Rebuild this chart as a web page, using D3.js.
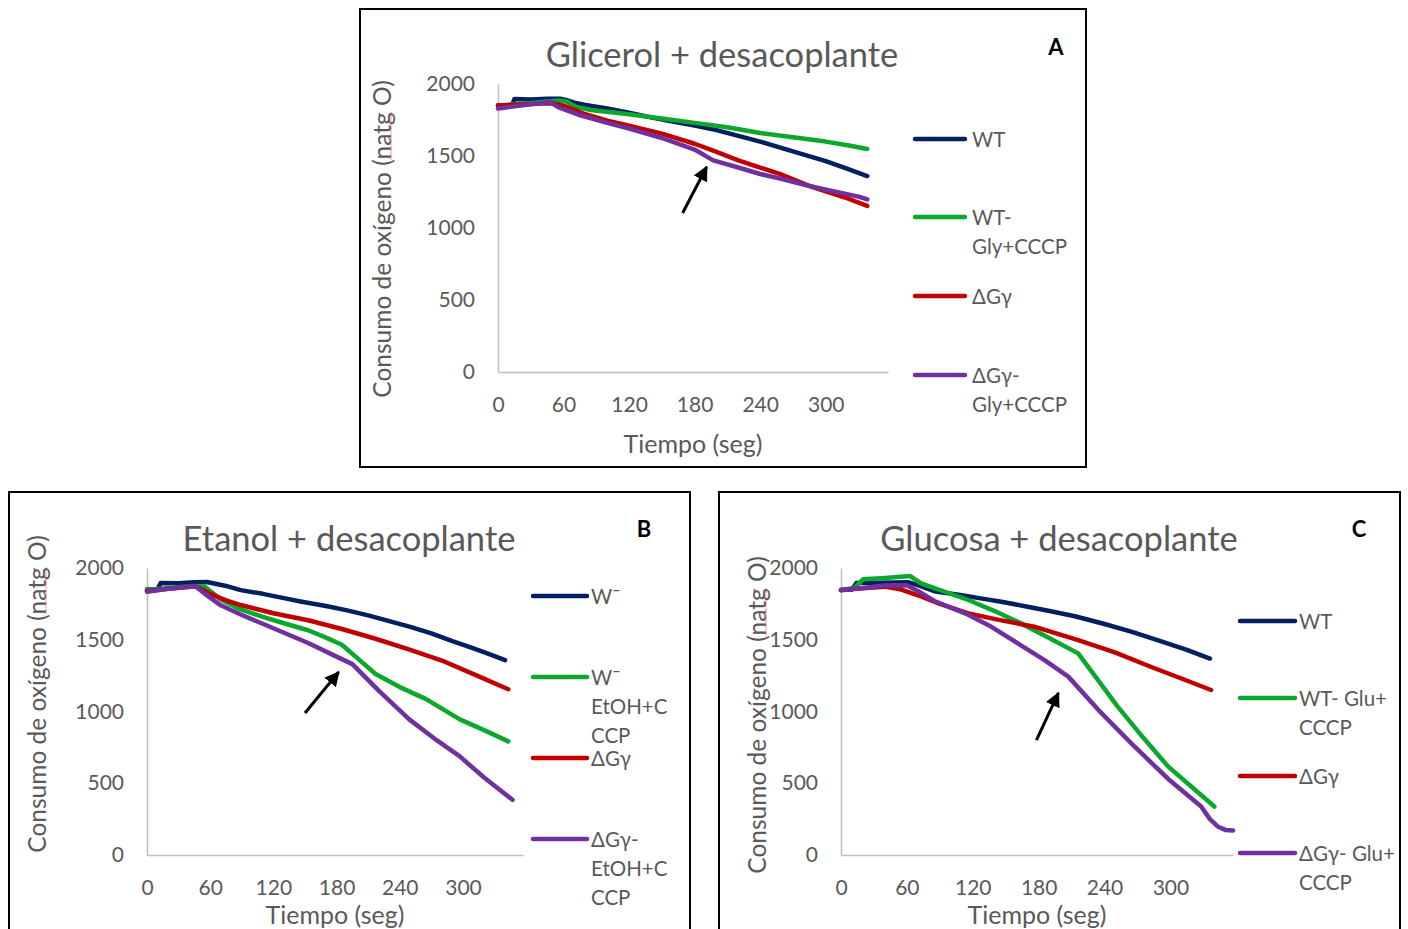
<!DOCTYPE html>
<html>
<head>
<meta charset="utf-8">
<script src="https://cdn.jsdelivr.net/npm/d3@7"></script>
<style>
  body { margin: 0; background: #fff; }
  svg text { font-family: Lato, "Open Sans", sans-serif; fill: #595959; }
</style>
</head>
<body>
<svg id="fig" width="1408" height="929"></svg>
<script>
// ---- data: [tiempo (seg), consumo (natg O)] ----
var glyWT      = [[0,1850],[13,1852],[15,1895],[30,1893],[45,1897],[57,1897],[62,1890],[70,1870],[80,1855],[100,1830],[120,1800],[140,1768],[160,1740],[180,1712],[200,1680],[220,1640],[240,1600],[260,1555],[280,1510],[300,1465],[320,1410],[338,1361]];
var glyWTCCCP  = [[0,1850],[20,1862],[40,1875],[55,1885],[62,1880],[72,1840],[85,1820],[120,1790],[150,1760],[180,1730],[210,1700],[240,1660],[270,1630],[300,1600],[320,1575],[338,1549]];
var glyDG      = [[0,1850],[20,1858],[40,1865],[50,1866],[60,1850],[80,1790],[100,1745],[120,1710],[150,1655],[180,1585],[200,1528],[220,1470],[240,1420],[260,1370],[286,1290],[300,1255],[320,1205],[338,1153]];
var glyDGCCCP  = [[0,1830],[15,1845],[30,1860],[48,1875],[55,1840],[76,1781],[100,1730],[120,1690],[150,1625],[180,1545],[197,1470],[220,1420],[240,1375],[260,1340],[286,1290],[310,1250],[330,1218],[338,1198]];

var ethWT      = [[0,1850],[10,1852],[13,1895],[30,1893],[45,1900],[57,1902],[65,1890],[75,1875],[89,1846],[110,1820],[130,1790],[147,1765],[170,1735],[190,1705],[210,1670],[230,1630],[250,1590],[270,1545],[290,1490],[310,1440],[325,1400],[340,1358]];
var ethWTCCCP  = [[0,1845],[20,1860],[45,1875],[55,1870],[70,1780],[89,1711],[110,1660],[130,1615],[153,1566],[170,1515],[185,1465],[200,1370],[217,1261],[240,1170],[265,1086],[297,945],[320,870],[343,792]];
var ethDG      = [[0,1840],[20,1855],[46,1873],[60,1820],[75,1775],[89,1742],[120,1685],[153,1636],[185,1575],[217,1507],[250,1430],[280,1355],[310,1260],[343,1155]];
var ethDGCCCP  = [[0,1835],[20,1855],[46,1873],[55,1820],[70,1740],[89,1676],[120,1580],[153,1477],[175,1400],[195,1330],[220,1145],[249,945],[275,800],[297,687],[320,540],[347,385]];

var gluWT      = [[0,1846],[10,1850],[14,1895],[35,1898],[61,1901],[70,1880],[85,1838],[110,1810],[130,1785],[146,1765],[170,1730],[190,1700],[213,1664],[240,1610],[265,1555],[291,1490],[315,1430],[336,1369]];
var gluWTCCCP  = [[0,1846],[12,1860],[20,1921],[40,1930],[63,1944],[73,1893],[85,1860],[116,1777],[140,1700],[164,1614],[190,1510],[216,1405],[230,1260],[252,1034],[275,820],[298,616],[320,470],[340,338]];
var gluDG      = [[0,1846],[20,1858],[40,1870],[55,1850],[70,1810],[90,1750],[116,1684],[146,1635],[176,1591],[216,1498],[250,1410],[282,1312],[310,1230],[337,1150]];
var gluDGCCCP  = [[0,1846],[20,1860],[40,1878],[60,1880],[70,1840],[85,1770],[113,1684],[137,1590],[161,1475],[185,1360],[207,1243],[237,990],[267,758],[298,530],[328,338],[336,250],[343,199],[350,175],[357,171]];

var xTicks = [0, 60, 120, 180, 240, 300];
var yTicks = [0, 500, 1000, 1500, 2000];
var colors = ["#002060", "#0BA82B", "#C00000", "#7030A0"];

var glyLabels = [["WT"], ["WT-", "Gly+CCCP"], ["\u0394G\u03b3"], ["\u0394G\u03b3-", "Gly+CCCP"]];
var ethLabels = [["W\u02c9"], ["W\u02c9", "EtOH+C", "CCP"], ["\u0394G\u03b3"], ["\u0394G\u03b3-", "EtOH+C", "CCP"]];
var gluLabels = [["WT"], ["WT- Glu+", "CCCP"], ["\u0394G\u03b3"], ["\u0394G\u03b3- Glu+", "CCCP"]];

// arrows: [tail, head] in data units
var glyArrow = [[169, 1104], [191, 1424]];
var ethArrow = [[150, 990], [182, 1275]];
var gluArrow = [[178, 801], [198, 1129]];

var svg = d3.select("#fig");

svg.append("defs").append("marker")
    .attr("id", "head")
    .attr("viewBox", "0 0 10 10")
    .attr("refX", 9).attr("refY", 5)
    .attr("markerWidth", 5).attr("markerHeight", 5)
    .attr("markerUnits", "strokeWidth")
    .attr("orient", "auto")
  .append("path")
    .attr("d", "M0,0 L10,5 L0,10 z")
    .attr("fill", "#000");

function panel(p) {
    var g = svg.append("g");

    g.append("rect")
        .attr("x", p.box[0]).attr("y", p.box[1])
        .attr("width", p.box[2]).attr("height", p.box[3])
        .attr("fill", "none").attr("stroke", "#000").attr("stroke-width", 2);

    var x = d3.scaleLinear().domain([0, 357]).range([p.x0, p.x1]);
    var y = d3.scaleLinear().domain([0, 2000]).range([p.y0, p.y1]);

    // axes
    var xa = g.append("g").attr("transform", "translate(0," + p.y0 + ")")
        .call(d3.axisBottom(x).tickValues(xTicks).tickSize(0).tickPadding(25));
    xa.select(".domain").attr("stroke", "#BFBFBF").attr("stroke-width", 1.5);
    xa.selectAll("text").attr("font-size", 21).attr("fill", "#595959").attr("font-family", "Lato");

    var ya = g.append("g").attr("transform", "translate(" + p.x0 + ",0)")
        .call(d3.axisLeft(y).tickValues(yTicks).tickFormat(d3.format("d")).tickSize(0).tickPadding(23));
    ya.select(".domain").attr("stroke", "#BFBFBF").attr("stroke-width", 1.5);
    ya.selectAll("text").attr("font-size", 21).attr("fill", "#595959").attr("font-family", "Lato");

    // series
    var line = d3.line().x(function(d) { return x(d[0]); }).y(function(d) { return y(d[1]); });
    p.series.forEach(function(s, i) {
        g.append("path")
            .datum(s)
            .attr("d", line)
            .attr("fill", "none")
            .attr("stroke", colors[i])
            .attr("stroke-width", 4.5)
            .attr("stroke-linejoin", "round")
            .attr("stroke-linecap", "round");
    });

    // arrow
    g.append("line")
        .attr("x1", x(p.arrow[0][0])).attr("y1", y(p.arrow[0][1]))
        .attr("x2", x(p.arrow[1][0])).attr("y2", y(p.arrow[1][1]))
        .attr("stroke", "#000").attr("stroke-width", 3)
        .attr("marker-end", "url(#head)");

    // titles
    g.append("text")
        .attr("x", p.title[1]).attr("y", p.title[2])
        .attr("text-anchor", "middle").attr("dominant-baseline", "central")
        .attr("font-size", 34.5)
        .text(p.title[0]);

    g.append("text")
        .attr("x", p.letter[1]).attr("y", p.letter[2])
        .attr("text-anchor", "middle").attr("dominant-baseline", "central")
        .attr("font-size", 22).attr("font-weight", "bold")
        .style("fill", "#000")
        .text(p.letter[0]);

    g.append("text")
        .attr("x", p.xTitle[0]).attr("y", p.xTitle[1])
        .attr("text-anchor", "middle").attr("dominant-baseline", "central")
        .attr("font-size", 25)
        .text("Tiempo (seg)");

    var yt = g.append("text")
        .attr("transform", "translate(" + p.yTitle[0] + "," + p.yTitle[1] + ") rotate(-90)")
        .attr("text-anchor", "middle").attr("dominant-baseline", "central")
        .attr("font-size", 24.5)
        .text("Consumo de ox\u00edgeno (natg O)");

    // spell-check underline under "natg"
    var node = yt.node();
    var full = node.getComputedTextLength();
    var s0 = node.getSubStringLength(0, 20);
    var s1 = node.getSubStringLength(20, 4);
    g.append("line")
        .attr("transform", "translate(" + p.yTitle[0] + "," + p.yTitle[1] + ") rotate(-90)")
        .attr("x1", -full / 2 + s0).attr("x2", -full / 2 + s0 + s1)
        .attr("y1", 10).attr("y2", 10)
        .attr("stroke", "#E04040").attr("stroke-width", 1)
        .attr("stroke-dasharray", "1,1");

    // legend
    p.labels.forEach(function(lab, i) {
        var ly = p.legY[i];
        g.append("line")
            .attr("x1", p.legX[0]).attr("x2", p.legX[1])
            .attr("y1", ly).attr("y2", ly)
            .attr("stroke", colors[i]).attr("stroke-width", 4.5)
            .attr("stroke-linecap", "round");
        lab.forEach(function(t, j) {
            g.append("text")
                .attr("x", p.legX[2]).attr("y", ly + j * 29)
                .attr("dominant-baseline", "central")
                .attr("font-size", 20.5)
                .text(t);
        });
    });
}

panel({
    box: [360, 9, 726, 458],
    x0: 498, x1: 888, y0: 372, y1: 84,
    series: [glyWT, glyWTCCCP, glyDG, glyDGCCCP],
    arrow: glyArrow,
    title: ["Glicerol + desacoplante", 722, 53],
    letter: ["A", 1056, 46],
    xTitle: [693, 443],
    yTitle: [381, 239],
    labels: glyLabels,
    legX: [915, 965, 972],
    legY: [139, 217, 296, 375]
});

panel({
    box: [9, 492, 681, 450],
    x0: 147, x1: 523, y0: 855, y1: 568,
    series: [ethWT, ethWTCCCP, ethDG, ethDGCCCP],
    arrow: ethArrow,
    title: ["Etanol + desacoplante", 349, 537],
    letter: ["B", 644, 528],
    xTitle: [335, 914],
    yTitle: [36, 694],
    labels: ethLabels,
    legX: [533, 587, 591],
    legY: [596, 677, 758, 839]
});

panel({
    box: [719, 492, 681, 450],
    x0: 841, x1: 1233, y0: 855, y1: 568,
    series: [gluWT, gluWTCCCP, gluDG, gluDGCCCP],
    arrow: gluArrow,
    title: ["Glucosa + desacoplante", 1059, 537],
    letter: ["C", 1359, 528],
    xTitle: [1037, 914],
    yTitle: [756, 715],
    labels: gluLabels,
    legX: [1240, 1295, 1299],
    legY: [621, 698, 776, 853]
});
</script>
</body>
</html>
